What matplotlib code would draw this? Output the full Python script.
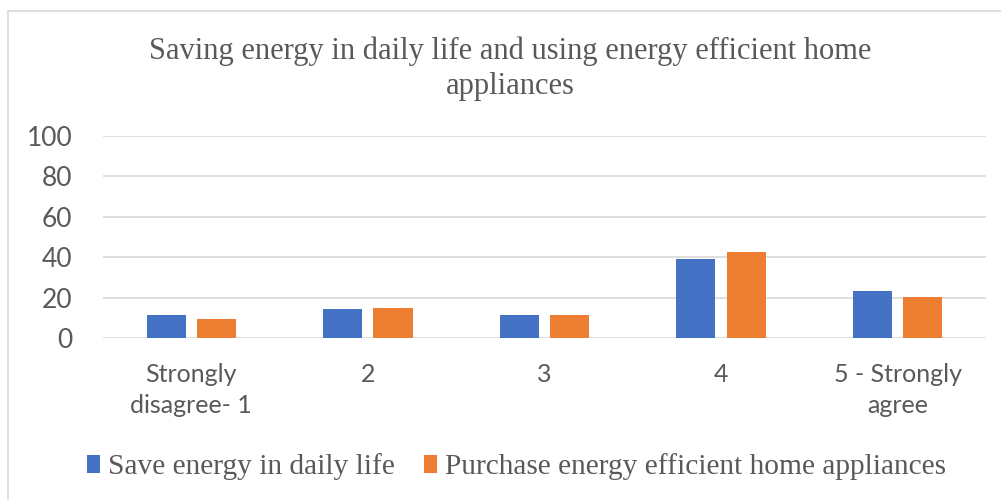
import numpy as np
import matplotlib.pyplot as plt
from matplotlib.patches import Rectangle, Patch

categories = ['Strongly\ndisagree- 1', '2', '3', '4', '5 - Strongly\nagree']
save_energy = [11.5, 14.3, 11.5, 39.2, 23.1]
purchase_efficient = [9.5, 15.0, 11.5, 42.7, 20.4]
series_names = ['Save energy in daily life', 'Purchase energy efficient home appliances']
yticks = [0, 20, 40, 60, 80, 100]

blue = '#4472C4'
orange = '#ED7D31'
grey_text = '#595959'
grid_col = '#D9D9D9'

fig = plt.figure(figsize=(10.01, 5.0), dpi=100)
ax = fig.add_axes([0.1029, 0.324, 0.882, 0.404])

x = np.arange(len(categories))
w = 0.222
off = 0.1425
ax.bar(x - off, save_energy, w, color=blue, zorder=3)
ax.bar(x + off, purchase_efficient, w, color=orange, zorder=3)

ax.set_xlim(-0.5, len(categories) - 0.5)
ax.set_ylim(0, 100)
ax.set_yticks(yticks)
ax.set_xticks(x)
ax.set_xticklabels(categories, fontfamily='Lato', fontsize=18, color=grey_text, linespacing=1.42)
ax.set_yticklabels([str(t) for t in yticks], fontfamily='Lato', fontsize=19, color=grey_text)
ax.tick_params(axis='both', length=0)
ax.tick_params(axis='y', pad=22)
ax.tick_params(axis='x', pad=18)
ax.grid(axis='y', color=grid_col, linewidth=1.2, zorder=0)
for s in ax.spines.values():
    s.set_visible(False)

fig.text(0.51, 0.862, 'Saving energy in daily life and using energy efficient home\nappliances',
         ha='center', va='center', fontfamily='Liberation Serif', fontsize=22,
         color=grey_text, linespacing=1.28)

handles = [Patch(facecolor=blue), Patch(facecolor=orange)]
fig.legend(handles, series_names, loc='center', bbox_to_anchor=(0.516, 0.066), ncol=2,
           frameon=False, prop={'family': 'Liberation Serif', 'size': 21.2},
           handlelength=0.45, handleheight=0.55, handletextpad=0.25, columnspacing=1.0,
           labelcolor=grey_text)

fig.patches.append(Rectangle((8 / 1001, -0.1), 1.2, 1.078, transform=fig.transFigure,
                             fill=False, edgecolor=grid_col, linewidth=1.2))

fig.savefig('out.png', dpi=100)
